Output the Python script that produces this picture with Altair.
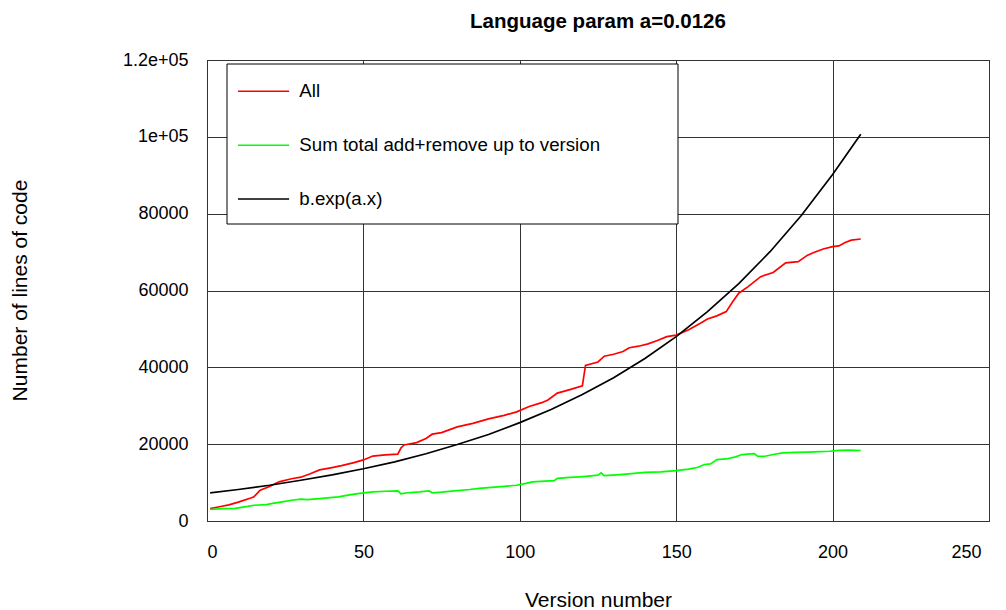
import altair as alt
import pandas as pd

title_text = "Language param a=0.0126"
x_title = "Version number"
y_title = "Number of lines of code"

series_names = ["All", "Sum total add+remove up to version", "b.exp(a.x)"]
series_colors = ["#ff0000", "#00ff00", "#000000"]

# "All"
all_x = [1, 4, 7, 10, 14, 15, 17, 20, 23, 27, 30, 33, 36, 40, 43, 47, 50, 53, 57, 61,
         62, 63, 67, 70, 72, 75, 80, 85, 90, 95, 99, 103, 107, 109, 112, 116, 120, 121,
         125, 127, 130, 133, 135, 138, 141, 144, 147, 150, 154, 158, 160, 163, 166, 168,
         170, 173, 177, 181, 185, 189, 192, 194, 197, 200, 202, 204, 206, 209]
all_y = [3200, 3700, 4200, 4900, 6000, 6300, 8000, 9000, 10200, 11000, 11400, 12300, 13300,
         13900, 14400, 15200, 15900, 16900, 17200, 17400, 19000, 19800, 20400, 21500, 22600,
         23000, 24500, 25400, 26600, 27500, 28400, 29800, 30800, 31500, 33300, 34200, 35200,
         40500, 41400, 42900, 43400, 44100, 45100, 45500, 46100, 47000, 48000, 48400, 49800,
         51600, 52600, 53400, 54500, 57000, 59300, 61000, 63600, 64700, 67200, 67500, 69200,
         69900, 70800, 71400, 71600, 72500, 73100, 73400]

# "Sum total add+remove up to version"
sum_x = [1, 5, 9, 13, 15, 19, 21, 24, 27, 30, 32, 36, 42, 46, 50, 53, 57, 61, 62, 64, 68,
         71, 72, 75, 79, 84, 87, 93, 99, 102, 104, 108, 111, 112, 116, 119, 122, 125, 126,
         127, 131, 134, 140, 145, 150, 154, 157, 159, 161, 163, 166, 169, 171, 175, 176,
         178, 181, 184, 188, 192, 196, 199, 202, 205, 209]
sum_y = [3000, 3200, 3300, 3800, 4100, 4250, 4600, 5000, 5400, 5700, 5550, 5800, 6300, 6850,
         7300, 7600, 7750, 7850, 7050, 7350, 7600, 7850, 7350, 7500, 7850, 8200, 8500, 8900,
         9300, 9800, 10200, 10400, 10500, 11100, 11350, 11500, 11700, 11950, 12550, 11800,
         12000, 12200, 12650, 12800, 13100, 13500, 14000, 14700, 14850, 16000, 16150, 16700,
         17300, 17550, 16900, 16800, 17300, 17750, 17850, 17950, 18050, 18150, 18400, 18450,
         18350]

# "b.exp(a.x)"
fit_x = [1, 10, 20, 30, 40, 50, 60, 70, 80, 90, 100, 110, 120, 130, 140, 150, 160, 170,
         180, 190, 200, 209]
fit_y = [7300, 8200, 9300, 10600, 12000, 13600, 15400, 17500, 19900, 22500, 25600, 29000,
         32900, 37300, 42300, 48000, 54500, 61800, 70100, 79500, 90200, 100700]

x_ticks = [0, 50, 100, 150, 200, 250]
y_ticks = [0, 20000, 40000, 60000, 80000, 100000, 120000]
y_tick_labels = ["0", "20000", "40000", "60000", "80000", "1e+05", "1.2e+05"]

rows = []
for name, xs, ys in zip(series_names, [all_x, sum_x, fit_x], [all_y, sum_y, fit_y]):
    for i, (xv, yv) in enumerate(zip(xs, ys)):
        rows.append({"version": xv, "lines": yv, "series": name, "order": i})
df = pd.DataFrame(rows)

y_label_expr = " : ".join(
    f"datum.value == {v} ? '{l}'" for v, l in zip(y_ticks, y_tick_labels)
) + " : datum.label"

FONT = "Liberation Sans"

# legend frame (white box with black border behind the legend entries)
legend_box = alt.Chart(pd.DataFrame({"box": [0]})).mark_rect(
    fill="#ffffff", stroke="#000000", strokeWidth=1
).encode(
    x=alt.value(20), x2=alt.value(471), y=alt.value(4), y2=alt.value(164)
)

lines = alt.Chart(df).mark_line(strokeWidth=1.7).encode(
    x=alt.X(
        "version:Q",
        scale=alt.Scale(domain=[0, 250], nice=False, zero=False),
        axis=alt.Axis(
            values=x_ticks, format="d", title=x_title,
            grid=True, gridColor="#333333", gridWidth=1,
            ticks=False, tickSize=0, domain=False,
            labelFont=FONT, labelFontSize=18, labelColor="#000000", labelPadding=22,
            labelOffset={"condition": {"test": "datum.value == 250", "value": -8}, "value": 0},
            titleFont=FONT, titleFontSize=21, titleFontWeight="normal", titleColor="#000000",
            titleX=391, titleY=79, titleBaseline="middle", titleAlign="center",
        ),
    ),
    y=alt.Y(
        "lines:Q",
        scale=alt.Scale(domain=[0, 120000], nice=False),
        axis=alt.Axis(
            values=y_ticks, labelExpr=y_label_expr, title=y_title,
            grid=True, gridColor="#333333", gridWidth=1,
            ticks=False, tickSize=0, domain=False,
            labelFont=FONT, labelFontSize=18, labelColor="#000000", labelPadding=19,
            titleFont=FONT, titleFontSize=21, titleFontWeight="normal", titleColor="#000000",
            titleX=-187, titleY=230, titleAngle=270, titleBaseline="middle", titleAlign="center",
        ),
    ),
    color=alt.Color(
        "series:N",
        sort=series_names,
        scale=alt.Scale(domain=series_names, range=series_colors),
        legend=alt.Legend(
            title=None, orient="none", legendX=17, legendY=8, direction="vertical",
            padding=14, rowPadding=33.8,
            symbolType="M-3.1,0H3.1", symbolSize=272, symbolStrokeWidth=1.5,
            symbolOffset=16.2, labelOffset=26.4,
            labelFont=FONT, labelFontSize=18.7, labelColor="#000000",
            labelLimit=600,
        ),
    ),
    order="order:Q",
)

chart = alt.layer(legend_box, lines).properties(
    width=782,
    height=461,
    title=alt.TitleParams(
        text=title_text, font=FONT, fontSize=20.5, fontWeight="bold", color="#000000",
        anchor="middle", frame="group", offset=19,
    ),
    autosize=alt.AutoSizeParams(type="none"),
    padding={"left": 199, "top": 52, "right": 9, "bottom": 89},
).configure_view(
    stroke="#000000", strokeWidth=1
)

chart.save("out.html", embed_options={"renderer": "svg", "actions": False})
